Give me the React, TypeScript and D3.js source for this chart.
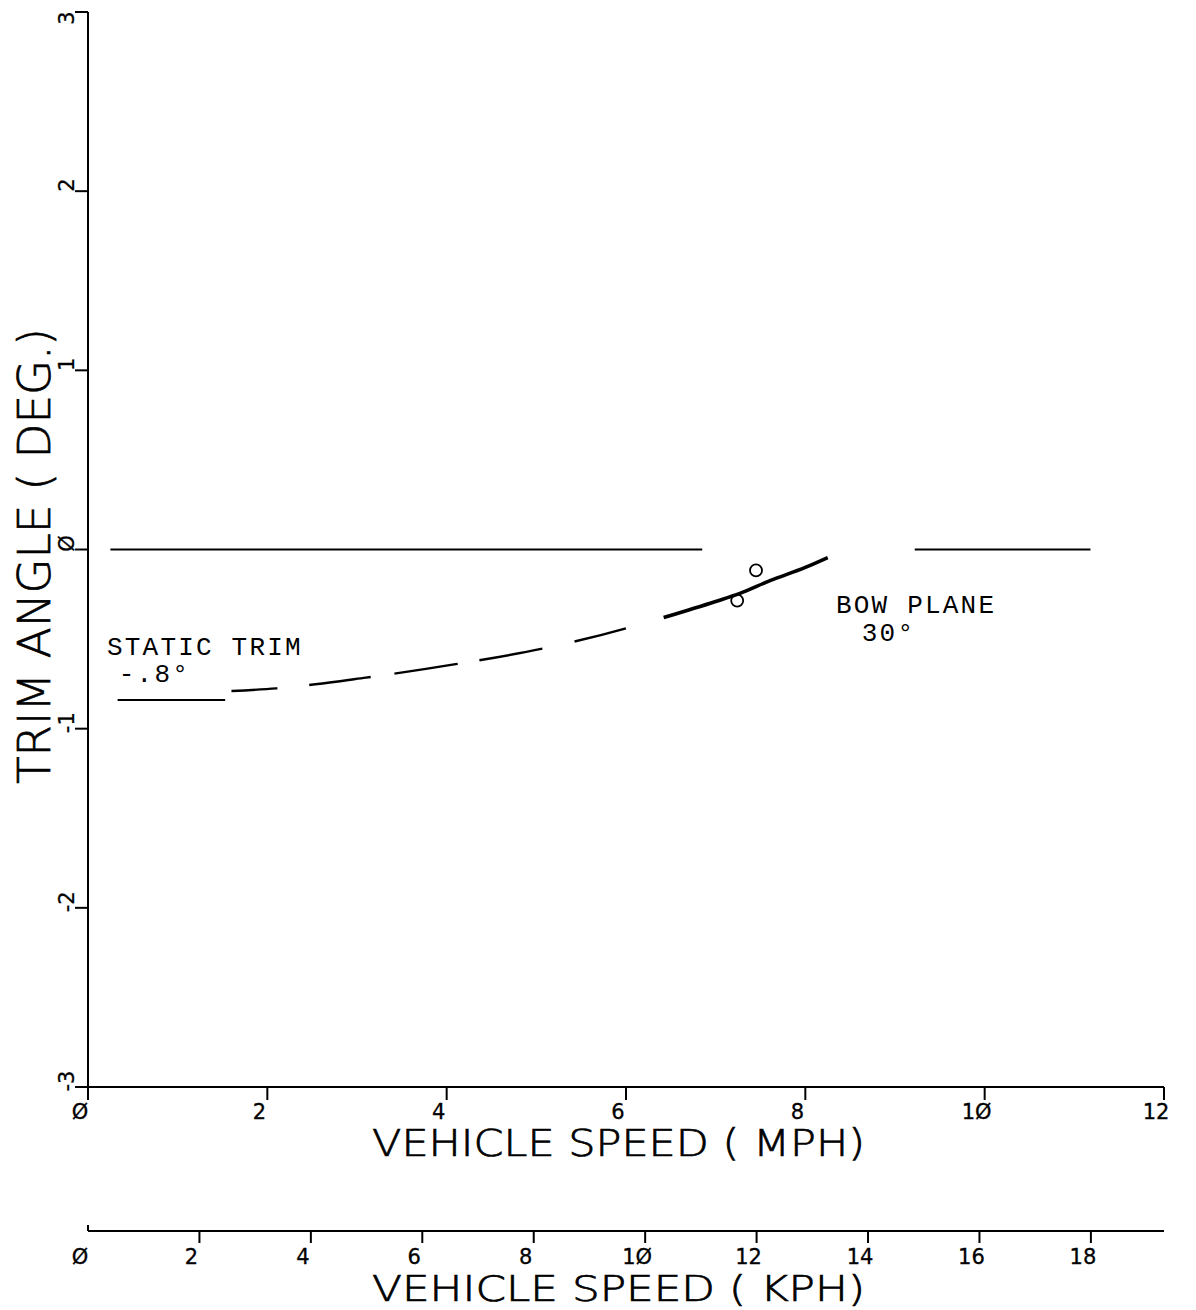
import React, { useEffect, useRef } from 'react';
import * as d3 from 'd3';

// axis ticks
const mphTicks = [0, 2, 4, 6, 8, 10, 12];
const mphLabels = ['Ø', '2', '4', '6', '8', '1Ø', '12'];
const kphTicks = [0, 2, 4, 6, 8, 10, 12, 14, 16, 18];
const kphLabels = ['Ø', '2', '4', '6', '8', '1Ø', '12', '14', '16', '18'];
const trimTicks = [3, 2, 1, 0, -1, -2, -3];
const trimLabels = ['3', '2', '1', 'Ø', '-1', '-2', '-3'];

// zero reference line (two pieces, broken where the curve crosses)
const zeroLineA: [number, number][] = [[0.25, 0], [6.85, 0]];
const zeroLineB: [number, number][] = [[9.22, 0], [11.18, 0]];

// static trim level
const staticTrim: [number, number][] = [[0.33, -0.84], [1.53, -0.84]];

// estimated trim curve (dashed part)
const dashedCurve: [number, number][] = [
  [1.6, -0.79], [2.1, -0.775], [3.1, -0.715], [4.1, -0.64],
  [5.1, -0.55], [6.0, -0.44], [6.4, -0.38],
];

// bow plane 30 deg curve (solid part)
const solidCurve: [number, number][] = [
  [6.42, -0.38], [7.0, -0.29], [7.27, -0.245], [7.6, -0.175],
  [8.0, -0.1], [8.25, -0.045],
];

// measured points
const testPoints: [number, number][] = [[7.24, -0.285], [7.45, -0.117]];

const KPH_PER_MPH = 1.609344;

const App: React.FC = () => {
  const svgRef = useRef<SVGSVGElement>(null);

  useEffect(() => {
    if (!svgRef.current) return;
    const svg = d3.select(svgRef.current);
    svg.selectAll('*').remove();

    const plotFont = "'DejaVu Sans', sans-serif";
    const typeFont = "'Liberation Mono', 'DejaVu Sans Mono', monospace";

    const x = d3.scaleLinear().domain([0, 12]).range([88, 1164]);
    const xk = d3.scaleLinear().domain([0, 12 * KPH_PER_MPH]).range([88, 1164]);
    const y = d3.scaleLinear().domain([-3, 3]).range([1087, 12]);
    const kphY = 1231;

    const g = svg.append('g');

    const tickLabel = (sel: d3.Selection<SVGTextElement, unknown, null, undefined>) =>
      sel.attr('font-family', plotFont)
        .attr('font-size', 21)
        .attr('fill', '#000')
        .attr('stroke', '#000')
        .attr('stroke-width', 0.3);

    const title = (sel: d3.Selection<SVGTextElement, unknown, null, undefined>) =>
      sel.attr('font-family', plotFont)
        .attr('font-weight', 200)
        .attr('fill', '#000')
        .attr('stroke', '#000')
        .attr('stroke-width', 0.7)
        .attr('lengthAdjust', 'spacingAndGlyphs');

    // y axis
    g.append('line')
      .attr('x1', x(0)).attr('x2', x(0))
      .attr('y1', y(3)).attr('y2', y(-3))
      .attr('stroke', '#000').attr('stroke-width', 2);
    trimTicks.forEach((t, i) => {
      g.append('line')
        .attr('x1', x(0) - 13).attr('x2', x(0))
        .attr('y1', y(t)).attr('y2', y(t))
        .attr('stroke', '#000').attr('stroke-width', 2);
      g.append('text')
        .attr('transform', `translate(${x(0) - 14},${t === 3 ? y(t) + 6 : y(t) - 6}) rotate(-90)`)
        .attr('text-anchor', 'middle')
        .call(tickLabel)
        .text(trimLabels[i]);
    });

    // mph axis
    g.append('line')
      .attr('x1', x(0)).attr('x2', x(12))
      .attr('y1', y(-3)).attr('y2', y(-3))
      .attr('stroke', '#000').attr('stroke-width', 2);
    mphTicks.forEach((t, i) => {
      g.append('line')
        .attr('x1', x(t)).attr('x2', x(t))
        .attr('y1', y(-3)).attr('y2', y(-3) + 13)
        .attr('stroke', '#000').attr('stroke-width', 2);
      g.append('text')
        .attr('x', x(t) - 8).attr('y', y(-3) + 32)
        .attr('text-anchor', 'middle')
        .call(tickLabel)
        .text(mphLabels[i]);
    });

    // kph axis
    g.append('line')
      .attr('x1', xk(0)).attr('x2', x(12))
      .attr('y1', kphY).attr('y2', kphY)
      .attr('stroke', '#000').attr('stroke-width', 2);
    g.append('line')
      .attr('x1', xk(0)).attr('x2', xk(0))
      .attr('y1', kphY - 6).attr('y2', kphY)
      .attr('stroke', '#000').attr('stroke-width', 2);
    kphTicks.forEach((t, i) => {
      if (t > 0) {
        g.append('line')
          .attr('x1', xk(t)).attr('x2', xk(t))
          .attr('y1', kphY).attr('y2', kphY + 12)
          .attr('stroke', '#000').attr('stroke-width', 2);
      }
      g.append('text')
        .attr('x', xk(t) - 8).attr('y', kphY + 33)
        .attr('text-anchor', 'middle')
        .call(tickLabel)
        .text(kphLabels[i]);
    });

    // axis titles
    g.append('text')
      .attr('x', 372).attr('y', 1156)
      .attr('font-size', 37)
      .attr('textLength', 493)
      .call(title)
      .text('VEHICLE SPEED ( MPH)');
    g.append('text')
      .attr('x', 372).attr('y', 1301)
      .attr('font-size', 35)
      .attr('textLength', 493)
      .call(title)
      .text('VEHICLE SPEED ( KPH)');
    g.append('text')
      .attr('transform', 'translate(50,784) rotate(-90)')
      .attr('font-size', 45)
      .attr('textLength', 456)
      .call(title)
      .text('TRIM ANGLE ( DEG.)');

    const line = d3.line<[number, number]>()
      .x(d => x(d[0]))
      .y(d => y(d[1]));
    const curve = d3.line<[number, number]>()
      .x(d => x(d[0]))
      .y(d => y(d[1]))
      .curve(d3.curveMonotoneX);

    [zeroLineA, zeroLineB, staticTrim].forEach(seg => {
      g.append('path')
        .datum(seg)
        .attr('fill', 'none')
        .attr('stroke', '#000')
        .attr('stroke-width', 2.2)
        .attr('d', line);
    });

    g.append('path')
      .datum(dashedCurve)
      .attr('fill', 'none')
      .attr('stroke', '#000')
      .attr('stroke-width', 2.4)
      .attr('stroke-dasharray', '46,32,62,24,64,22,64,33,53,40')
      .attr('d', curve);

    g.selectAll('.pt')
      .data(testPoints)
      .enter().append('circle')
      .attr('cx', d => x(d[0]))
      .attr('cy', d => y(d[1]))
      .attr('r', 6)
      .attr('fill', 'none')
      .attr('stroke', '#000')
      .attr('stroke-width', 1.8);

    g.append('path')
      .datum(solidCurve)
      .attr('fill', 'none')
      .attr('stroke', '#000')
      .attr('stroke-width', 3.6)
      .attr('d', curve);

    // annotations (typewriter, ~17.8px per character)
    const notes: [string, number, number][] = [
      ['STATIC TRIM', 107, 655],
      [' -.8°', 101, 682],
      ['BOW PLANE', 836, 613],
      [' 30°', 844, 641],
    ];
    notes.forEach(([t, nx, ny]) => {
      g.append('text')
        .attr('x', nx).attr('y', ny)
        .attr('font-family', typeFont)
        .attr('font-size', 26)
        .attr('letter-spacing', 2.2)
        .attr('xml:space', 'preserve')
        .style('white-space', 'pre')
        .text(t);
    });
  }, []);

  return (
    <svg ref={svgRef} width={1180} height={1310} viewBox="0 0 1180 1310"
      style={{ display: 'block', margin: '-8px 0 0 -8px', background: '#fff' }} />
  );
};

export default App;
